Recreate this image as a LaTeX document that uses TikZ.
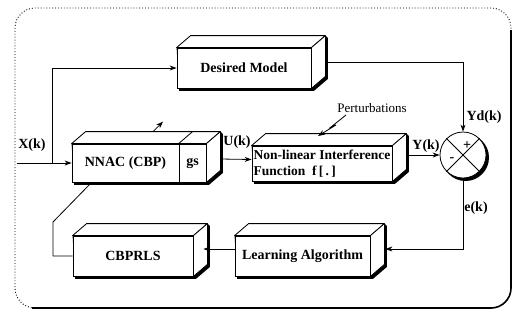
\documentclass[tikz,border=0pt]{standalone}
\usepackage{fontspec}
\setmainfont{Liberation Serif}
\usetikzlibrary{arrows.meta,calc}
\pgfdeclarelayer{bg}
\pgfsetlayers{bg,main}
\tikzset{
 blk/.style={draw, fill=white, line width=0.8pt, inner sep=2pt, font=\fontsize{14}{16.5}\selectfont\bfseries},
 arr/.style={line width=0.8pt, -{Stealth[length=7pt,width=5pt]}},
 ln/.style={line width=0.8pt},
 lbl/.style={font=\fontsize{14}{16}\selectfont\bfseries, inner sep=0pt},
}
\newcommand{\cubeit}[2]{%
 \begin{pgfonlayer}{bg}
 \fill[black] ([shift={(2.5,2.5)}]#1.south west) -- ([shift={(2.5,2.5)}]#2.south east) -- ([shift={(16.5,-9.5)}]#2.south east) -- ([shift={(16.5,-9.5)}]#2.north east) -- ([shift={(14,-12)}]#2.north east) -- ([shift={(14,-12)}]#1.north west)-- (#1.north west) -- cycle;
 \end{pgfonlayer}
 \draw[ln, fill=white, line join=round] (#1.north west) -- ([shift={(14,-12)}]#1.north west) -- ([shift={(14,-12)}]#2.north east) -- (#2.north east) -- cycle;
 \draw[ln, fill=white, line join=round] (#2.north east) -- ([shift={(14,-12)}]#2.north east) -- ([shift={(14,-12)}]#2.south east) -- (#2.south east) -- cycle;
}
\begin{document}
\begin{tikzpicture}[x=1pt,y=-1pt]
\useasboundingbox (0,0) rectangle (518,322);
% frame
\draw[dotted, line width=0.9pt, rounded corners=20pt] (15,8) rectangle (511,308);
\draw[line width=1.6pt, rounded corners=20pt] (511,30) -- (511,308) -- (32,308);
% blocks
\node[blk, minimum width=134pt, minimum height=40pt] (dm) at (244,68) {Desired Model};
\cubeit{dm}{dm}
\node[blk, minimum width=107pt, minimum height=38pt] (nnac) at (125.5,163) {NNAC (CBP)};
\node[blk, minimum width=27pt, minimum height=38pt, inner sep=0pt] (gs) at (192.5,163) {gs};
\cubeit{nnac}{gs}
\draw[ln] (gs.north west) -- ([shift={(14,-12)}]gs.north west);
\node[blk, minimum width=140pt, minimum height=35pt, inner sep=1.5pt, align=left, font=\fontsize{13.5}{16.5}\selectfont\bfseries] (nl) at (322,163.5) {Non-linear Interference\\Function\ \ f\,[\,.\,]};
\cubeit{nl}{nl}
\node[blk, minimum width=135pt, minimum height=40pt] (la) at (302.5,256) {Learning Algorithm};
\cubeit{la}{la}
\node[blk, minimum width=120pt, minimum height=40pt] (cb) at (133,256) {CBPRLS};
\cubeit{cb}{cb}
% summing junction
\node[draw, ln, fill=white, circle, minimum size=46pt, inner sep=0pt] (sum) at (463,155) {};
\begin{pgfonlayer}{bg}
\fill[black] ([shift={(2.5,2.5)}]sum.center) circle (23.5pt);
\end{pgfonlayer}
\draw[ln] (sum.north west) -- (sum.south east) (sum.north east) -- (sum.south west);
\node[lbl] (plus) at (467,146) {+};
\node[lbl] (minus) at (452,160) {-};
% labels
\node[lbl] (lx) at (32,145) {X(k)};
\node[lbl] (lu) at (237,142) {U(k)};
\node[lbl] (ly) at (426,146) {Y(k)};
\node[lbl] (lyd) at (484,117) {Yd(k)};
\node[lbl] (le) at (476,208) {e(k)};
\node[lbl, font=\fontsize{13}{15}\selectfont] (lp) at (372,108) {Perturbations};
% connectors
\coordinate (in) at (17,163);
\coordinate (br) at (52,163);
\draw[arr] (in) -- (nnac.west);
\draw[arr] (br) |- (dm.west);
\draw[arr] ([shift={(14,-4)}]gs.east) -- ([shift={(0,-4)}]nl.west);
\coordinate (nlr) at ([shift={(15,-6)}]nl.east);
\draw[arr] (sum.west -| nlr) -- (sum.west);
\coordinate (dmr) at ([shift={(14,-6)}]dm.east);
\draw[arr] (dmr) -| (sum.north);
\coordinate (lar) at ([shift={(15,-7)}]la.east);
\draw[arr] (sum.south) |- (lar);
\draw[arr] ([shift={(0,-7)}]la.west) -- ([shift={(10,-7)}]cb.east);
\coordinate (k1) at (53,222);
\draw[ln] (cb.west) -| (k1) -- ([shift={(20,0)}]nnac.south west);
\draw[arr] ([shift={(27.5,-12)}]nnac.north) -- ([shift={(37.5,-22)}]nnac.north);
\coordinate (pz) at (346,115);
\draw[arr] (pz) -- (331,127) -- (336,125) -- (318,136);
\end{tikzpicture}
\end{document}
